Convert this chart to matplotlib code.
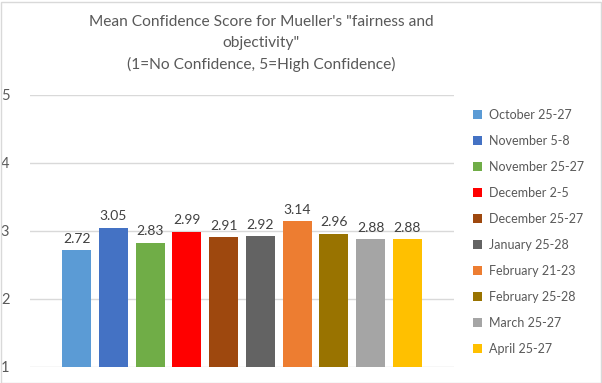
import matplotlib
matplotlib.use("Agg")
import matplotlib.pyplot as plt
from matplotlib.patches import Rectangle, Patch

plt.rcParams['font.family'] = ['Lato', 'DejaVu Sans']

categories = ["October 25-27", "November 5-8", "November 25-27", "December 2-5",
              "December 25-27", "January 25-28", "February 21-23", "February 25-28",
              "March 25-27", "April 25-27"]
values = [2.72, 3.05, 2.83, 2.99, 2.91, 2.92, 3.14, 2.96, 2.88, 2.88]
colors = ["#5B9BD5", "#4472C4", "#70AD47", "#FF0000", "#9E480E",
          "#636363", "#ED7D31", "#997300", "#A5A5A5", "#FFC000"]
yticks = [1, 2, 3, 4, 5]
title = 'Mean Confidence Score for Mueller\'s "fairness and\nobjectivity"\n(1=No Confidence, 5=High Confidence)'

W, H = 602, 383
fig = plt.figure(figsize=(W / 100, H / 100), dpi=100)
fig.patch.set_facecolor("white")
fig.add_artist(Rectangle((0.5 / W, 0.5 / H), 1 - 2 / W, 1 - 2 / H, transform=fig.transFigure,
                         fill=False, edgecolor="#D9D9D9", linewidth=1.0))

ax = fig.add_axes([30 / W, (H - 367) / H, (454 - 30) / W, (367 - 95) / H])
x = list(range(len(values)))
bars = ax.bar(x, values, width=0.79, color=colors, bottom=0)
ax.set_ylim(1, 5)
ax.set_xlim(-1.267, len(values) - 1 + 1.267)
ax.set_yticks(yticks)
ax.set_yticklabels([str(t) for t in yticks])
ax.set_xticks([])
ax.yaxis.grid(True, color="#D9D9D9", linewidth=1.0)
ax.set_axisbelow(True)
for s in ax.spines.values():
    s.set_visible(False)
ax.tick_params(axis='y', length=0, labelsize=10.5, labelcolor="#595959")
for yl in ax.get_yticklabels():
    yl.set_horizontalalignment('left')
ax.tick_params(axis='y', pad=21)

for xi, v in zip(x, values):
    ax.text(xi, v + 0.08, f"{v:.2f}", ha="center", va="bottom", fontsize=10, color="#404040")

fig.text(261 / W, 1 - 15 / H, title, ha="center", va="top", fontsize=11.2, color="#595959",
         linespacing=1.62)

handles = [Patch(facecolor=c, edgecolor='none') for c in colors]
leg = fig.legend(handles, categories, loc="upper left", bbox_to_anchor=(473 / W, 1 - 109 / H),
                 frameon=False, fontsize=9, labelcolor="#595959", handlelength=0.75,
                 handleheight=0.75, handletextpad=0.55, labelspacing=1.12, borderpad=0,
                 borderaxespad=0)

fig.savefig("out.png", dpi=100)
